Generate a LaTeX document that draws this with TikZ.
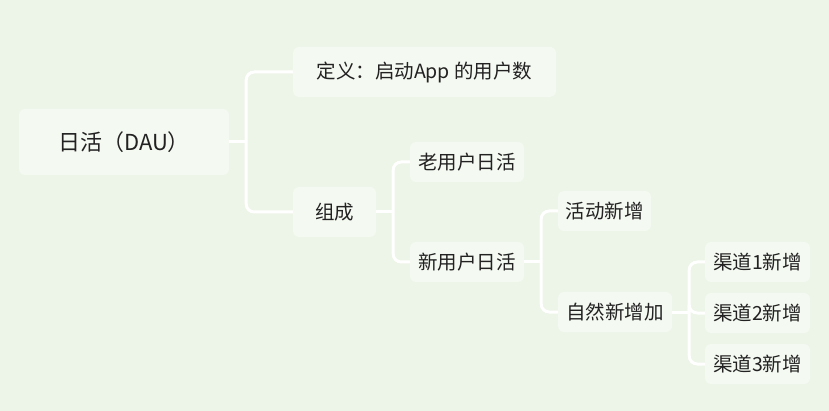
\documentclass[tikz,border=0pt]{standalone}
\usepackage{fontspec}
\setmainfont{Noto Sans CJK SC}
\usetikzlibrary{positioning}
\definecolor{mbg}{HTML}{EDF4E8}
\definecolor{mbox}{HTML}{F4F9F1}
\definecolor{mtext}{HTML}{222222}

\begin{document}
\begin{tikzpicture}[
  x=1pt,y=-1pt,
  font=\fontsize{19.5}{23}\selectfont,
  b/.style={fill=mbox,text=mtext,rounded corners=6pt,inner sep=0pt,
            minimum height=40pt,align=center},
  top/.style={b,minimum height=66pt,minimum width=210pt,
              font=\fontsize{22}{26}\selectfont},
  ln/.style={draw=white,line width=3pt,rounded corners=8pt}]

\fill[mbg] (0,0) rectangle (829,411);
\useasboundingbox (0,0) rectangle (829,411);

\node[top] (dau) at (124,142) {日活（DAU）};
\node[b,minimum width=263pt,minimum height=50pt] (def) at (424.5,72) {定义：启动App 的用户数};
\node[b,minimum width=83pt,minimum height=50pt] (comp) at (334.5,212) {组成};
\node[b,minimum width=114pt] (old) at (467,162) {老用户日活};
\node[b,minimum width=114pt] (new) at (467,262) {新用户日活};
\node[b,minimum width=93pt] (act) at (604.5,211) {活动新增};
\node[b,minimum width=114pt] (nat) at (615,312) {自然新增加};
\node[b,minimum width=105pt] (ch1) at (757.5,262) {渠道1新增};
\node[b,minimum width=105pt] (ch2) at (757.5,313) {渠道2新增};
\node[b,minimum width=105pt] (ch3) at (757.5,364) {渠道3新增};

% branches: a short stub out of each parent, then one elbow per child
\draw[ln] (dau.east) -- ++(17,0) coordinate (j1);
\draw[ln] (j1) |- (def.west);
\draw[ln] (j1) |- (comp.west);
\draw[ln] (comp.east) -- ++(17,0) coordinate (j2);
\draw[ln] (j2) |- (old.west);
\draw[ln] (j2) |- (new.west);
\draw[ln] (new.east) -- ++(17,0) coordinate (j3);
\draw[ln] (j3) |- (act.west);
\draw[ln] (j3) |- (nat.west);
\draw[ln] (nat.east) -- ++(17,0) coordinate (j4);
\draw[ln] (j4) |- (ch1.west);
\draw[ln] (j4) |- (ch2.west);
\draw[ln] (j4) |- (ch3.west);
\end{tikzpicture}
\end{document}
